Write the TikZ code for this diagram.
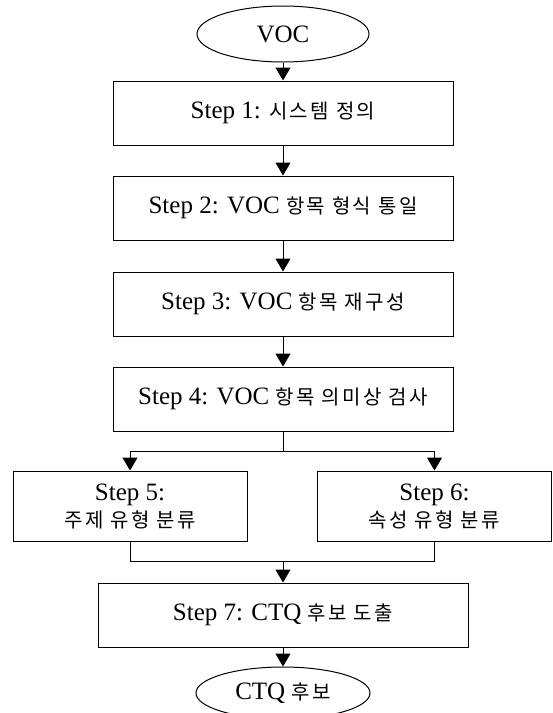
\documentclass[tikz,border=0pt]{standalone}
\usepackage{fontspec}
\setmainfont{Liberation Serif}
\newfontfamily\kr[Scale=0.8,LetterSpace=12]{Noto Sans CJK KR}
\usetikzlibrary{arrows.meta,positioning,shapes.geometric}

\begin{document}
\begin{tikzpicture}[x=1pt,y=1pt,
  >={Triangle[width=15pt,length=13pt]}, line width=1pt,
  term/.style={draw,ellipse,minimum width=172pt,minimum height=56pt,inner sep=0pt,font=\fontsize{25}{27}\selectfont},
  box/.style={draw,minimum width=340pt,minimum height=64pt,inner sep=0pt,align=center,font=\fontsize{25}{27}\selectfont},
  half/.style={box,minimum width=234pt,minimum height=70pt}]
  \useasboundingbox (0,0) rectangle (553,-713);
  \node[term] (voc) at (283,-34) {VOC};
  \node[box,below=18pt of voc] (s1) {Step 1: {\kr 시스템 정의}};
  \node[box,below=30pt of s1] (s2) {Step 2: VOC {\kr 항목 형식 통일}};
  \node[box,below=31pt of s2] (s3) {Step 3: VOC {\kr 항목 재구성}};
  \node[box,below=30pt of s3] (s4) {Step 4: VOC {\kr 항목 의미상 검사}};
  \node[half,below=39pt of s4,xshift=-153pt] (s5) {Step 5:\\{\kr 주제 유형 분류}};
  \node[half,below=39pt of s4,xshift=151.5pt] (s6) {Step 6:\\{\kr 속성 유형 분류}};
  \coordinate (mid) at (s4 |- s5.south);
  \coordinate[below=20pt of mid] (join);
  \node[box,minimum width=370pt,below=41pt of mid] (s7) {Step 7: CTQ {\kr 후보 도출}};
  \node[term,minimum width=174pt,minimum height=52pt,below=19pt of s7] (ctq) {CTQ {\kr 후보}};
  \draw[->] (voc) -- (s1);
  \draw[->] (s1) -- (s2);
  \draw[->] (s2) -- (s3);
  \draw[->] (s3) -- (s4);
  \draw[->] (s4.south) -- ++(0,-20pt) -| (s5.north);
  \draw[->] (s4.south) -- ++(0,-20pt) -| (s6.north);
  \draw (s5.south) |- (join) -| (s6.south);
  \draw[->] (join) -- (s7);
  \draw[->] (s7) -- (ctq);
\end{tikzpicture}
\end{document}
